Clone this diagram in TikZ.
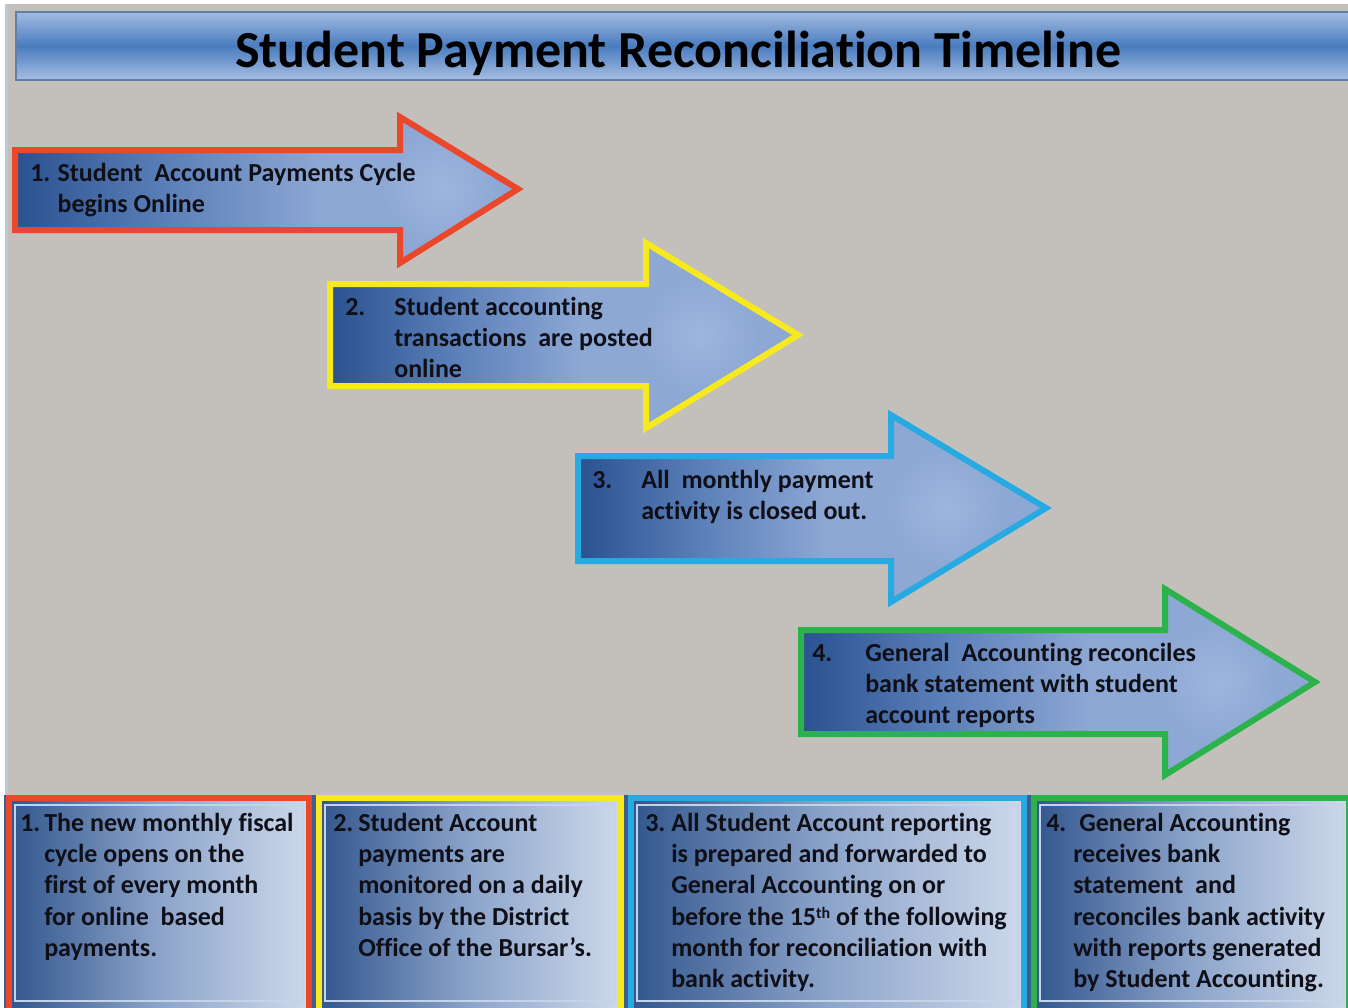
\documentclass[tikz,border=0pt]{standalone}
\usepackage{fontspec}
\setmainfont{Carlito}[Ligatures={CommonOff,ContextualOff}, Contextuals={AlternateOff}]
\definecolor{bggray}{HTML}{C3C0BC}
\definecolor{edgeblue}{HTML}{B9C8DC}
\definecolor{tbtop}{HTML}{A3BBE1}
\definecolor{tbmid}{HTML}{4A7CBF}
\definecolor{tbbot}{HTML}{A7BEE2}
\definecolor{tbline}{HTML}{5F7FA8}
\definecolor{cred}{HTML}{EA472B}
\definecolor{cyel}{HTML}{F6EA1E}
\definecolor{ccyan}{HTML}{27A9E1}
\definecolor{cgreen}{HTML}{2CB24A}
\definecolor{adark}{HTML}{2A5290}
\definecolor{amid}{HTML}{5C80B9}
\definecolor{alight}{HTML}{8DA8D4}
\definecolor{ahigh}{HTML}{9DB6DF}
\definecolor{pdark}{HTML}{33578E}
\definecolor{pmid}{HTML}{8CA4CA}
\definecolor{plight}{HTML}{CCD8EA}
\definecolor{panedge}{HTML}{C5D3E8}
\definecolor{gapc}{HTML}{3D5F8F}
\definecolor{txtc}{HTML}{0F0F18}
\newcommand\stepitem[3]{\makebox[#1][l]{#2}\begin{tabular}[t]{@{}l@{}}#3\end{tabular}}
% #1 colour, #2 left, #3 body top, #4 body bottom, #5 head base x, #6 head top, #7 head bottom, #8 tip x, #9 tip y
\newcommand\bigarrow[9]{%
  \begin{scope}
    \clip (#2,#3) -- (#5,#3) -- (#5,#6) -- (#8,#9) -- (#5,#7) -- (#5,#4) -- (#2,#4) -- cycle;
    \fill[alight] (#2,#6) rectangle (#8,#7);
    \shade[inner color=ahigh, outer color=alight] ({#5+0.35*(#8-#5)},#9) circle (60);
    \shade[left color=adark, right color=alight, middle color=amid] (#2,#3) rectangle ({#2+0.8*(#5-#2)},#4);
  \end{scope}
  \draw[draw=#1, line width=4.5pt, line join=miter]
    (#2,#3) -- (#5,#3) -- (#5,#6) -- (#8,#9) -- (#5,#7) -- (#5,#4) -- (#2,#4) -- cycle;
}
% #1 colour, #2 left, #3 right
\newcommand\bottombox[3]{%
  \fill[gapc] ({#2-2.5},795) rectangle ({#3+2.5},1010);
  \shade[left color=pdark, right color=plight, middle color=pmid] ({#2+6},801) rectangle ({#3-6},1010);
  \draw[panedge, line width=1.2pt] ({#2+9},805) rectangle ({#3-9},1001);
  \draw[#1, line width=4.5pt] ({#2+3},798) rectangle ({#3-3},1012);
}
\begin{document}
\begin{tikzpicture}[x={(0.75pt,0)}, y={(0,-0.75pt)},
  txt/.style={font=\bfseries\fontsize{19.5pt}{23.4pt}\selectfont, text=txtc, inner sep=0pt, anchor=base west},
  ttl/.style={font=\bfseries\fontsize{39pt}{44pt}\selectfont, text=black, inner sep=0pt, anchor=base}]
\useasboundingbox (0,0) rectangle (1348,1007);
\fill[white] (0,0) rectangle (1348,1007);
\fill[bggray] (5,4) rectangle (1348,1007);
\draw[edgeblue, line width=2.25pt] (6.5,4) -- (6.5,1007);
% title bar
\shade[top color=tbtop, bottom color=tbbot, middle color=tbmid] (16,12) rectangle (1348,80);
\draw[tbline, line width=1.2pt] (16,12) rectangle (1352,80);
\node[ttl] (title) at (678,67) {Student Payment Reconciliation Timeline};
% arrows
\bigarrow{cred}{15}{150}{230}{400}{117}{263}{518}{189}
\bigarrow{cyel}{330}{284}{386}{646}{243}{428}{798}{335}
\bigarrow{ccyan}{578}{456}{561}{891}{415}{602}{1046}{508}
\bigarrow{cgreen}{801}{630}{734}{1165}{589}{775}{1315}{682}
\node[txt] (a1) at (30,181) {\stepitem{20.5pt}{1.}{Student~~Account Payments Cycle\\begins Online}};
\node[txt] (a2) at (345,315.5) {\stepitem{36.75pt}{2.}{Student accounting\\transactions~~are posted\\online}};
\node[txt] (a3) at (592,488.5) {\stepitem{36.75pt}{3.}{All~~monthly payment\\activity is closed out.}};
\node[txt] (a4) at (812,661.5) {\stepitem{39.75pt}{4.}{General~~Accounting reconciles\\bank statement with student\\account reports}};
% bottom boxes
\bottombox{cred}{6}{312}
\bottombox{cyel}{316}{624}
\bottombox{ccyan}{628}{1027}
\bottombox{cgreen}{1031}{1352}
\node[txt] (b1) at (20,831.5) {\stepitem{18pt}{1.}{The new monthly fiscal\\cycle opens on the\\first of every month\\for online~~based\\payments.}};
\node[txt] (b2) at (333,831.5) {\stepitem{18.75pt}{2.}{Student Account\\payments are\\monitored on a daily\\basis by the District\\Office of the Bursar’s.}};
\node[txt] (b3) at (645,831.5) {\stepitem{19.5pt}{3.}{All Student Account reporting\\is prepared and forwarded to\\General Accounting on or\\before the 15\raisebox{0.55ex}{\fontsize{12pt}{14pt}\selectfont th} of the following\\month for reconciliation with\\bank activity.}};
\node[txt] (b4) at (1046,831.5) {\stepitem{20.25pt}{4.}{\hspace{4.5pt}General Accounting\\receives bank\\statement~~and\\reconciles bank activity\\with reports generated\\by Student Accounting.}};
\end{tikzpicture}
\end{document}
